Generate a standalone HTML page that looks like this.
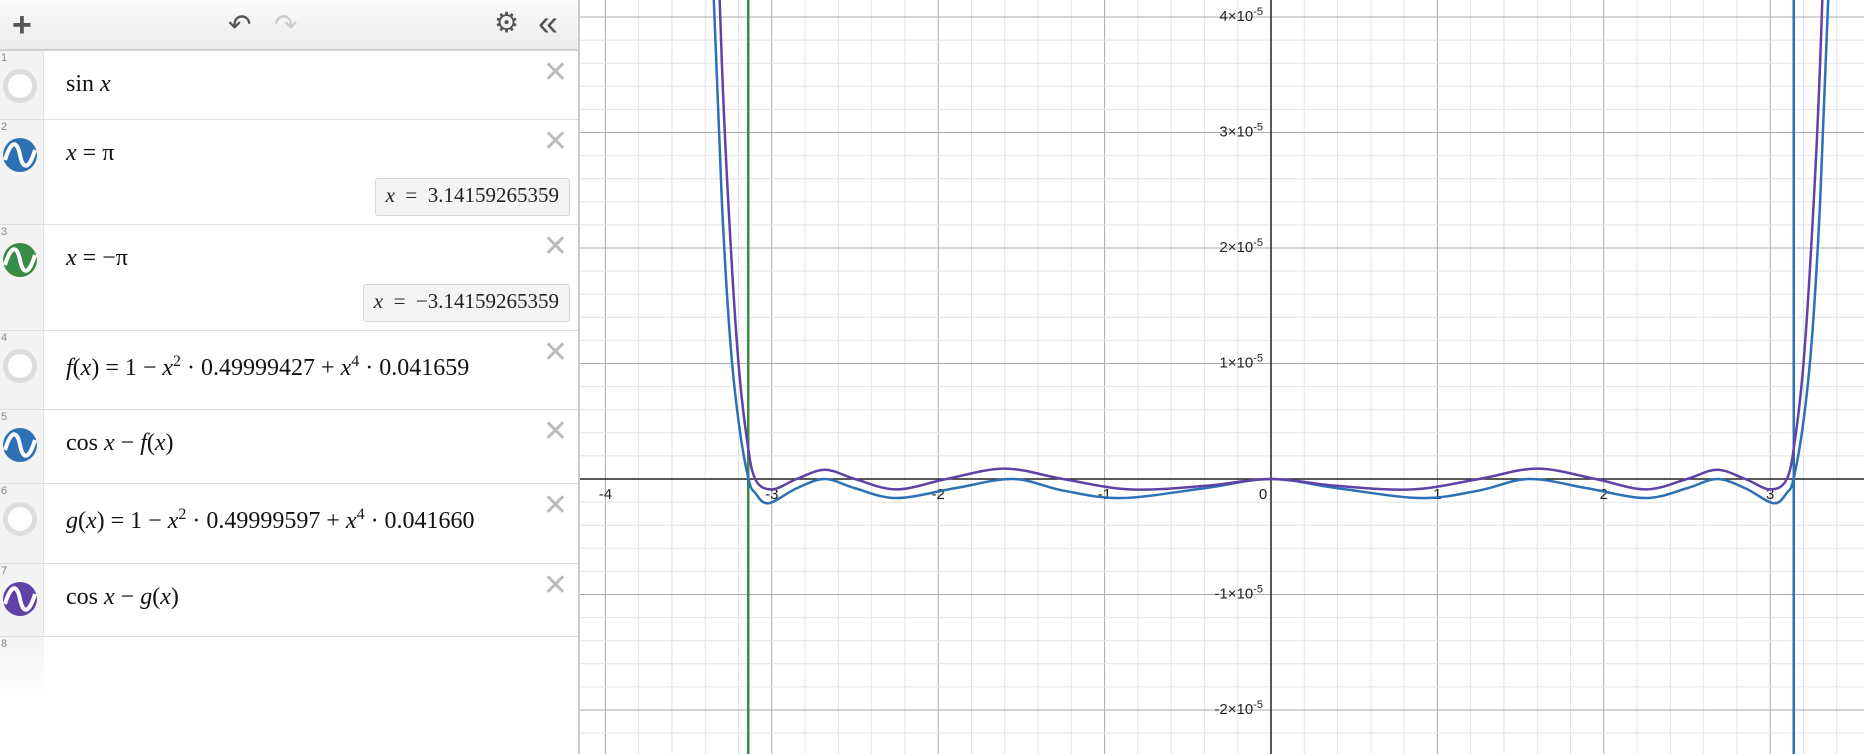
<!DOCTYPE html>
<html><head><meta charset="utf-8"><style>
*{box-sizing:border-box;margin:0;padding:0}
body{width:1864px;height:754px;overflow:hidden;background:#fff;font-family:"Liberation Sans",sans-serif;position:relative}
#panel{position:absolute;left:0;top:0;width:580px;height:754px;border-right:2px solid #ccc;background:#fff;z-index:2}
#toolbar{position:absolute;left:0;top:0;width:578px;height:51px;background:linear-gradient(#fafafa,#ececec);border-bottom:2px solid #d0d0d0}
.row{position:absolute;left:0;width:578px;border-bottom:1px solid #ddd}
.gut{position:absolute;left:0;top:0;bottom:0;width:44px;background:#f3f3f3;border-right:1px solid #e2e2e2}
.num{position:absolute;left:1px;top:1px;font-size:11px;color:#888}
.ic{position:absolute;left:3px;width:34px;height:34px;border-radius:50%;overflow:hidden}
.off{border:5px solid #ddd;background:#fff}
.expr{position:absolute;left:66px;font-family:"Liberation Serif",serif;font-size:24px;color:#111;white-space:nowrap}
.expr i{font-style:italic}
.x{position:absolute;right:10px;font-size:30px;color:#bbb;font-family:"DejaVu Sans",sans-serif}
.val{position:absolute;right:8px;height:38px;border:1px solid #d5d5d5;border-radius:3px;background:#f4f4f4;font-family:"Liberation Serif",serif;font-size:21px;padding:4px 10px;color:#222}
svg#g{position:absolute;left:0;top:0}
</style></head><body>
<svg id="g" width="1864" height="754"></svg>
<div id="panel">
 <div id="toolbar">
  <div style="position:absolute;left:12px;top:6px;font-size:34px;color:#555;font-weight:bold">+</div>
  <div style="position:absolute;left:228px;top:8px;font-size:28px;color:#555">↶</div>
  <div style="position:absolute;left:274px;top:8px;font-size:28px;color:#ccc">↷</div>
  <div style="position:absolute;left:494px;top:6px;font-size:28px;color:#555">⚙</div>
  <div style="position:absolute;left:538px;top:2px;font-size:36px;color:#555">«</div>
 </div>
 <div class="row" style="top:51px;height:69px"><div class="gut"><span class="num">1</span><div class="ic off" style="top:18px"></div></div><div class="expr" style="top:20px">sin <i>x</i></div><div class="x" style="top:4px">✕</div></div>
 <div class="row" style="top:120px;height:105px"><div class="gut"><span class="num">2</span><div class="ic" style="top:18px;background:#2d70b3"><svg width="34" height="34"><path d="M2,22 C8,2 14,2 17,17 C20,32 26,32 32,12" stroke="#fff" stroke-width="4" fill="none"/></svg></div></div><div class="expr" style="top:20px"><i>x</i> = π</div><div class="x" style="top:4px">✕</div><div class="val" style="top:58px"><i>x</i> &nbsp;= &nbsp;3.14159265359</div></div>
 <div class="row" style="top:225px;height:106px"><div class="gut"><span class="num">3</span><div class="ic" style="top:18px;background:#388c46"><svg width="34" height="34"><path d="M2,22 C8,2 14,2 17,17 C20,32 26,32 32,12" stroke="#fff" stroke-width="4" fill="none"/></svg></div></div><div class="expr" style="top:20px"><i>x</i> = −π</div><div class="x" style="top:4px">✕</div><div class="val" style="top:59px"><i>x</i> &nbsp;= &nbsp;−3.14159265359</div></div>
 <div class="row" style="top:331px;height:79px;overflow:hidden"><div class="gut"><span class="num">4</span><div class="ic off" style="top:18px"></div></div><div class="expr" style="top:22px;width:450px;overflow:hidden"><i>f</i>(<i>x</i>) = 1 − <i>x</i><sup style="font-size:16px">2</sup> · 0.49999427 + <i>x</i><sup style="font-size:16px">4</sup> · 0.041659</div><div class="x" style="top:4px">✕</div></div>
 <div class="row" style="top:410px;height:74px"><div class="gut"><span class="num">5</span><div class="ic" style="top:18px;background:#2d70b3"><svg width="34" height="34"><path d="M2,22 C8,2 14,2 17,17 C20,32 26,32 32,12" stroke="#fff" stroke-width="4" fill="none"/></svg></div></div><div class="expr" style="top:20px">cos <i>x</i> − <i>f</i>(<i>x</i>)</div><div class="x" style="top:4px">✕</div></div>
 <div class="row" style="top:484px;height:80px"><div class="gut"><span class="num">6</span><div class="ic off" style="top:18px"></div></div><div class="expr" style="top:22px;width:450px;overflow:hidden"><i>g</i>(<i>x</i>) = 1 − <i>x</i><sup style="font-size:16px">2</sup> · 0.49999597 + <i>x</i><sup style="font-size:16px">4</sup> · 0.041660</div><div class="x" style="top:4px">✕</div></div>
 <div class="row" style="top:564px;height:73px"><div class="gut"><span class="num">7</span><div class="ic" style="top:18px;background:#6042a6"><svg width="34" height="34"><path d="M2,22 C8,2 14,2 17,17 C20,32 26,32 32,12" stroke="#fff" stroke-width="4" fill="none"/></svg></div></div><div class="expr" style="top:20px">cos <i>x</i> − <i>g</i>(<i>x</i>)</div><div class="x" style="top:4px">✕</div></div>
 <div style="position:absolute;top:637px;left:0;width:44px;height:60px;background:linear-gradient(#f3f3f3,#fff)"><span class="num">8</span></div>
</div>
<script>
const xTicks=[-4,-3,-2,-1,0,1,2,3];
const yTicks=[-2,-1,1,2,3,4];
const blueX=[0,0.4,0.9,1.25,1.55,1.9,2.25,2.5,2.68,2.85,3.02,3.1,3.14,3.2,3.25,3.3,3.35,3.42];
const blueY=[0,-0.08,-0.165,-0.1,0,-0.08,-0.165,-0.08,0,-0.08,-0.21,-0.12,0,0.5,1.2,2.4,4.2,7];
const purpleX=[0,0.4,0.85,1.25,1.6,1.95,2.25,2.5,2.68,2.85,3.0,3.1,3.15,3.2,3.25,3.3,3.38];
const purpleY=[0,-0.06,-0.09,0,0.09,0,-0.09,0,0.08,0,-0.09,0,0.35,1.0,2.1,3.6,7];
const vLines=[Math.PI,-Math.PI];
const vColors=['#2d70b3','#388c46'];
const X0=1271,UX=166.4,Y0=479,UY=115.5;
const sx=v=>X0+v*UX, sy=v=>Y0-v*UY;
const svg=document.getElementById('g');const NS='http://www.w3.org/2000/svg';
function mk(t,a){const e=document.createElementNS(NS,t);for(const k in a)e.setAttribute(k,a[k]);svg.appendChild(e);return e;}
for(let i=-30;i<=30;i++){const x=sx(i*0.2);if(x<580||x>1864)continue;const l=mk('line',{x1:x,x2:x,y1:0,y2:754,stroke:i%5==0?'#aaa':'#e4e4e4','stroke-width':1});

}
for(let i=-20;i<=25;i++){const y=sy(i*0.2);if(y<0||y>754)continue;const l=mk('line',{x1:580,x2:1864,y1:y,y2:y,stroke:i%5==0?'#aaa':'#e4e4e4','stroke-width':1});

}
let a=mk('line',{x1:580,x2:1864,y1:Y0,y2:Y0,stroke:'#222','stroke-width':1.5});


a=mk('line',{x1:X0,x2:X0,y1:0,y2:754,stroke:'#222','stroke-width':1.5});


xTicks.forEach(v=>{const t=mk('text',{x:sx(v)-(v==0?8:0),y:Y0+20,'font-size':15,'text-anchor':'middle',fill:'#222','font-family':'Liberation Sans, sans-serif'});t.textContent=v;

});
yTicks.forEach(v=>{const t=mk('text',{x:X0-8,y:sy(v)+4,'font-size':15,'text-anchor':'end',fill:'#222','font-family':'Liberation Sans, sans-serif'});
t.innerHTML=(v<0?'-':'')+Math.abs(v)+'×10<tspan dy="-6" font-size="11">-5</tspan>';

});
vLines.forEach((v,i)=>{const l=mk('line',{x1:sx(v),x2:sx(v),y1:0,y2:754,stroke:vColors[i],'stroke-width':2.5});

});
function curve(xs,ys,color,name){
 let px=[],py=[];for(let i=xs.length-1;i>0;i--){px.push(-xs[i]);py.push(ys[i]);}for(let i=0;i<xs.length;i++){px.push(xs[i]);py.push(ys[i]);}
 const P=px.map((x,i)=>[sx(x),sy(py[i])]);
 let d='M'+P[0][0]+','+P[0][1];
 for(let i=0;i<P.length-1;i++){const p0=P[Math.max(0,i-1)],p1=P[i],p2=P[i+1],p3=P[Math.min(P.length-1,i+2)];
  d+=` C${p1[0]+(p2[0]-p0[0])/6},${p1[1]+(p2[1]-p0[1])/6} ${p2[0]-(p3[0]-p1[0])/6},${p2[1]-(p3[1]-p1[1])/6} ${p2[0]},${p2[1]}`;}
 const e=mk('path',{d:d,fill:'none',stroke:color,'stroke-width':2.5});
 
 
}
curve(blueX,blueY,'#2d70b3','curve-cos-minus-f');
curve(purpleX,purpleY,'#6042a6','curve-cos-minus-g');
</script>
</body></html>
